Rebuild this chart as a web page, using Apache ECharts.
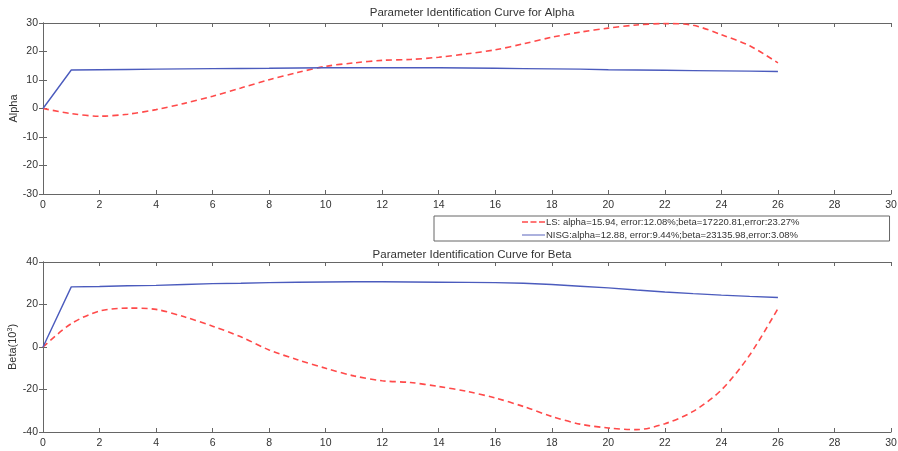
<!DOCTYPE html>
<html>
<head>
<meta charset="utf-8">
<title>Parameter Identification</title>
<script src="https://cdn.jsdelivr.net/npm/echarts@6/dist/echarts.min.js"></script>
<style>
  html, body { margin: 0; padding: 0; background: #fff; }
  #chart { width: 898px; height: 451px; }
</style>
</head>
<body>
<div id="chart"></div>
<script>
// sample steps
var steps = [0,1,2,3,4,5,6,7,8,9,10,11,12,13,14,15,16,17,18,19,20,21,22,23,24,25,26];
// alpha estimates
var alphaLS   = [0,-1.8,-2.7,-2.0,-0.4,1.8,4.3,7.2,10.1,12.6,14.8,16.0,16.9,17.2,18.0,19.2,20.6,22.7,25.0,26.8,28.2,29.3,29.8,29.2,25.9,22.0,16.0];
var alphaNISG = [0,13.5,13.6,13.7,13.8,13.9,14.0,14.05,14.1,14.2,14.3,14.3,14.3,14.3,14.3,14.2,14.1,14.0,13.9,13.8,13.6,13.5,13.4,13.3,13.2,13.1,13.0];
// beta estimates (x10^3)
var betaLS   = [0,11.0,16.9,18.3,17.7,14.2,9.8,4.8,-1.4,-6.0,-10.0,-13.6,-15.9,-16.7,-18.6,-20.9,-24.0,-28.0,-32.7,-36.3,-38.1,-38.9,-36.1,-30.3,-20.2,-3.8,18.1];
var betaNISG = [0,28.3,28.5,28.8,29.0,29.4,29.8,30.0,30.3,30.5,30.6,30.7,30.7,30.6,30.5,30.4,30.3,30.0,29.4,28.6,27.8,26.8,25.9,25.1,24.4,23.8,23.3];

var lsName   = 'LS: alpha=15.94, error:12.08%;beta=17220.81,error:23.27%';
var nisgName = 'NISG:alpha=12.88, error:9.44%;beta=23135.98,error:3.08%';

function pairs(ys) {
  return steps.map(function (x, i) { return [x, ys[i]]; });
}

var axisCol = '#666';
var textCol = '#333';
var font = 'Liberation Sans, Arial, sans-serif';

function xAx(idx, pos, labels) {
  return {
    type: 'value', gridIndex: idx, position: pos, min: 0, max: 30, interval: 2,
    axisLine: { show: true, onZero: false, lineStyle: { color: axisCol, width: 1 } },
    axisTick: { show: true, inside: true, length: 4, lineStyle: { color: axisCol } },
    axisLabel: { show: labels, color: textCol, fontSize: 10.5, fontFamily: font, margin: 6 },
    splitLine: { show: false }
  };
}
function yAx(idx, pos, min, max, step, name, labels) {
  return {
    type: 'value', gridIndex: idx, position: pos, min: min, max: max, interval: step,
    name: labels ? name : '', nameLocation: 'middle', nameGap: 24, nameRotate: 90,
    nameMoveOverlap: false,
    nameTextStyle: { color: textCol, fontSize: 11, fontFamily: font,
      rich: { sup: { fontSize: 7, verticalAlign: 'top', color: textCol, fontFamily: font, padding: [0, 0, 5, 0] } } },
    axisLine: { show: true, lineStyle: { color: axisCol, width: 1 } },
    axisTick: { show: true, inside: true, length: 4, lineStyle: { color: axisCol } },
    axisLabel: { show: labels, color: textCol, fontSize: 10.5, fontFamily: font, margin: 5 },
    splitLine: { show: false }
  };
}

var red = '#ff4a4a', blue = '#4b5bbd';

function lsSeries(x, y, data, name) {
  return {
    name: name, type: 'line', xAxisIndex: x, yAxisIndex: y, data: pairs(data),
    symbol: 'none', smooth: 0.3,
    lineStyle: { color: red, width: 1.6, type: [6, 4] },
    itemStyle: { color: red }
  };
}
function nisgSeries(x, y, data, name) {
  return {
    name: name, type: 'line', xAxisIndex: x, yAxisIndex: y, data: pairs(data),
    symbol: 'none', smooth: false,
    lineStyle: { color: blue, width: 1.4 },
    itemStyle: { color: blue }
  };
}

var chart = echarts.init(document.getElementById('chart'));
chart.setOption({
  animation: false,
  backgroundColor: '#fff',
  title: [
    { text: 'Parameter Identification Curve for Alpha', left: 467, textAlign: 'center', top: 2,
      textStyle: { fontSize: 11.5, fontWeight: 'normal', color: textCol, fontFamily: font } },
    { text: 'Parameter Identification Curve for Beta', left: 467, textAlign: 'center', top: 244,
      textStyle: { fontSize: 11.5, fontWeight: 'normal', color: textCol, fontFamily: font } }
  ],
  legend: {
    orient: 'vertical', left: 434, top: 216,
    padding: [1, 90, 1, 88], itemGap: 3, itemWidth: 23, itemHeight: 10,
    borderColor: '#666', borderWidth: 1, backgroundColor: '#fff',
    textStyle: { fontSize: 9.5, color: textCol, fontFamily: font, padding: [0, 0, 0, -4] },
    data: [
      { name: lsName, icon: 'path://M0,4h6v1.6h-6zM8.5,4h6v1.6h-6zM17,4h6v1.6h-6z', itemStyle: { color: red } },
      { name: nisgName, icon: 'path://M0,4h23v1.4h-23z', itemStyle: { color: '#8890d0' } }
    ]
  },
  grid: [
    { left: 43, right: 7, top: 23, height: 171, containLabel: false, outerBoundsMode: 'none' },
    { left: 43, right: 7, top: 262, height: 170, containLabel: false, outerBoundsMode: 'none' }
  ],
  xAxis: [xAx(0, 'bottom', true), xAx(0, 'top', false), xAx(1, 'bottom', true), xAx(1, 'top', false)],
  yAxis: [
    yAx(0, 'left', -30, 30, 10, 'Alpha', true), yAx(0, 'right', -30, 30, 10, '', false),
    yAx(1, 'left', -40, 40, 20, 'Beta(10{sup|3})', true), yAx(1, 'right', -40, 40, 20, '', false)
  ],
  series: [
    lsSeries(0, 0, alphaLS, lsName),
    nisgSeries(0, 0, alphaNISG, nisgName),
    lsSeries(2, 2, betaLS, lsName),
    nisgSeries(2, 2, betaNISG, nisgName)
  ]
});
</script>
</body>
</html>
